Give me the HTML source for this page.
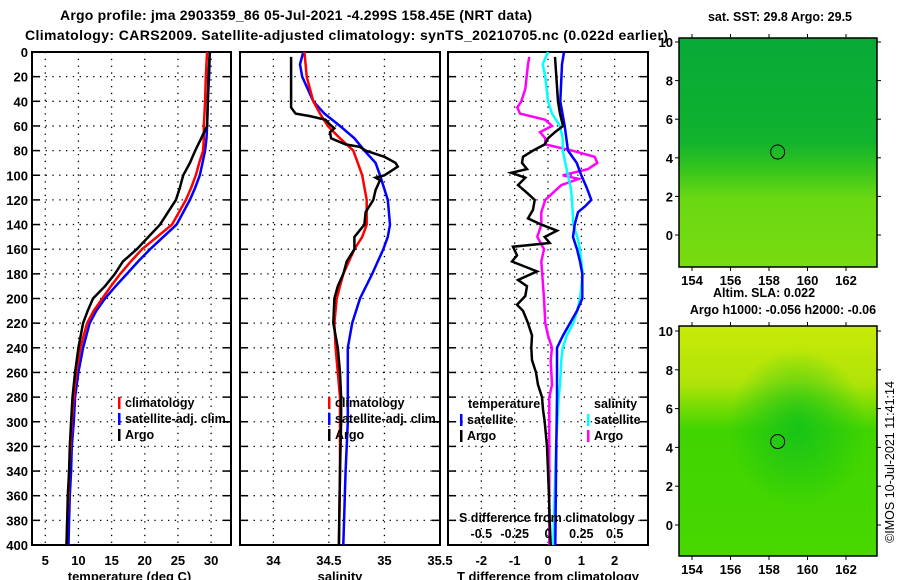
<!DOCTYPE html>
<html><head><meta charset="utf-8">
<style>
html,body{margin:0;padding:0;background:#fff;}
svg{display:block;font-family:"Liberation Sans",Arial,sans-serif;font-weight:bold;}
</style></head>
<body>
<svg id="chart" width="900" height="580" viewBox="0 0 900 580">
<defs>
<linearGradient id="g1" x1="0" y1="0" x2="0" y2="1">
<stop offset="0" stop-color="#08aa38"/><stop offset="0.45" stop-color="#10b22e"/>
<stop offset="0.58" stop-color="#38c61c"/><stop offset="0.7" stop-color="#6ad812"/>
<stop offset="1" stop-color="#78dc10"/></linearGradient>
<linearGradient id="g2" x1="0" y1="0" x2="0" y2="1">
<stop offset="0" stop-color="#c8ea08"/><stop offset="0.25" stop-color="#b0e408"/>
<stop offset="0.45" stop-color="#40d400"/><stop offset="1" stop-color="#48d800"/></linearGradient>
<radialGradient id="g2b" cx="0.6" cy="0.45" r="0.35">
<stop offset="0" stop-color="#18c418"/><stop offset="1" stop-color="#18c418" stop-opacity="0"/></radialGradient>
</defs>
<g id="root"></g>
</svg>
<script>
// ---- data (depth in m) ----
const tDepths   = [0,20,40,60,70,80,90,100,110,120,140,160,170,180,190,200,210,220,240,260,280,300,320,340,360,380,400];
const tArgo     = [29.8,29.6,29.5,29.4,28.5,27.6,26.8,25.8,25.3,24.7,22.3,18.8,16.7,15.5,14.0,12.2,11.4,10.7,10.0,9.5,9.1,8.9,8.7,8.6,8.4,8.3,8.2];
const tClim     = [29.4,29.2,29.1,28.9,28.9,28.8,28.2,27.7,27.0,26.2,24.1,19.6,17.9,16.3,14.9,13.6,12.3,11.3,10.3,9.7,9.3,9.0,8.8,8.6,8.5,8.3,8.2];
const tSat      = [29.8,29.7,29.5,29.4,29.3,29.1,28.7,28.3,27.6,26.8,24.8,20.8,19.0,17.3,15.6,14.0,12.7,11.7,10.7,10.0,9.5,9.3,9.0,8.9,8.7,8.6,8.5];

const sArgoDepths = [4,45,50,52,55,58,62,65,70,75,77,80,85,90,93,96,100,102,104,108,112,120,130,140,150,160,170,180,190,200,220,240,260,280,300,340,400];
const sArgo       = [34.16,34.16,34.2,34.33,34.47,34.5,34.55,34.51,34.52,34.65,34.78,34.83,35.0,35.1,35.12,35.07,35.0,34.92,34.96,34.94,34.92,34.9,34.83,34.82,34.73,34.73,34.66,34.63,34.58,34.55,34.54,34.58,34.6,34.61,34.61,34.6,34.59];
const sDepths   = [0,10,20,40,50,60,70,80,90,100,120,140,150,160,180,200,220,240,260,280,300,340,400];
const sClim     = [34.28,34.29,34.3,34.36,34.42,34.49,34.6,34.72,34.76,34.8,34.84,34.84,34.8,34.73,34.63,34.57,34.55,34.56,34.58,34.6,34.6,34.6,34.59];
const sSat      = [34.27,34.24,34.26,34.36,34.46,34.6,34.73,34.82,34.92,34.96,35.03,35.05,35.03,34.99,34.89,34.78,34.71,34.67,34.67,34.67,34.67,34.65,34.63];

const dtArgoDepths = [4,40,50,60,65,70,75,80,85,90,95,98,102,108,115,120,128,135,140,145,150,155,158,165,170,178,185,190,198,205,210,220,230,240,250,260,270,280,290,300,320,340,360,380,400];
const dtArgo       = [0.21,0.3,0.36,0.45,0.21,0,-0.1,-0.45,-0.75,-0.78,-0.63,-1.1,-0.68,-0.9,-0.6,-0.4,-0.45,-0.6,-0.2,0.27,-0.1,0.05,-1.05,-0.93,-1.08,-0.33,-0.9,-0.63,-0.68,-0.93,-0.75,-0.6,-0.48,-0.5,-0.48,-0.36,-0.3,-0.18,-0.15,-0.1,-0.03,0,0.03,0.05,0.08];
const dtSatDepths  = [0,10,40,60,80,90,100,110,120,125,130,140,150,160,170,180,200,210,220,230,240,260,280,320,400];
const dtSat        = [0.48,0.42,0.37,0.5,0.6,0.86,1.0,1.16,1.3,1.12,0.9,0.8,0.75,0.87,0.96,1.03,1.03,0.87,0.66,0.45,0.27,0.27,0.27,0.25,0.22];
const dsSatDepths  = [0,10,20,40,50,60,70,80,90,100,110,120,140,150,160,180,200,210,220,230,240,250,270,280,320,400];
const dsSat        = [0,-0.04,-0.02,0,0.03,0.09,0.11,0.11,0.13,0.15,0.17,0.18,0.19,0.22,0.24,0.26,0.24,0.22,0.19,0.14,0.11,0.1,0.09,0.08,0.06,0.04];
const dsArgoDepths = [4,10,30,40,45,50,55,60,65,70,75,80,85,90,95,100,103,108,115,120,130,140,150,160,170,200,220,230,240,250,270,280,320,400];
const dsArgo       = [-0.14,-0.15,-0.17,-0.2,-0.23,-0.21,-0.02,0.03,-0.06,-0.02,-0.02,0.18,0.35,0.37,0.3,0.11,0.23,0.1,0.03,-0.02,-0.05,-0.05,-0.08,-0.03,-0.05,-0.03,-0.02,0,0.03,0.02,0.03,0.01,0.01,0.01];

const depthTicks = [0,20,40,60,80,100,120,140,160,180,200,220,240,260,280,300,320,340,360,380,400];
const tTicks = [5,10,15,20,25,30];
const sTicks = [34,34.5,35,35.5];
const dtTicks = [-2,-1,0,1,2];
const dsTicks = [-0.5,-0.25,0,0.25,0.5];
const dsTickLabels = ["-0.5","-0.25","0","0.25","0.5"];
const latTicks = [0,2,4,6,8,10];
const lonTicks = [154,156,158,160,162];

// ---- helpers ----
const NS="http://www.w3.org/2000/svg";
const root=document.getElementById('root');
function mk(tag,attrs,parent){const e=document.createElementNS(NS,tag);for(const k in attrs)e.setAttribute(k,attrs[k]);(parent||root).appendChild(e);return e;}
function txt(x,y,s,size,anchor,parent){const e=mk('text',{x:x,y:y,'font-size':size,'text-anchor':anchor||'start',fill:'#000'},parent);e.textContent=s;return e;}

const Y0=52, Y1=545;
const yD = d => Y0 + d*(Y1-Y0)/400;
const panels = [
 {x0:32,x1:231,min:3,max:33,ticks:tTicks,labels:tTicks.map(String),label:'temperature (deg C)',name:'temperature-panel'},
 {x0:240,x1:440,min:33.7,max:35.5,ticks:sTicks,labels:sTicks.map(String),label:'salinity',name:'salinity-panel'},
 {x0:448,x1:648,min:-3,max:3,ticks:dtTicks,labels:dtTicks.map(String),label:'T difference from climatology',name:'difference-panel'}
];
panels.forEach(p=>{p.sx=v=>p.x0+(v-p.min)*(p.x1-p.x0)/(p.max-p.min);});
const dsX = v => panels[2].sx(v*4);

// titles
let t=txt(60,20,'Argo profile: jma 2903359_86 05-Jul-2021 -4.299S 158.45E (NRT data)',14,'start');
t.setAttribute('textLength','472');


t=txt(25,40,'Climatology: CARS2009. Satellite-adjusted climatology: synTS_20210705.nc (0.022d earlier)',14,'start');
t.setAttribute('textLength','643');



// depth tick labels
depthTicks.forEach(d=>{const e=txt(28,yD(d)+5,String(d),13,'end');

});

panels.forEach((p,i)=>{
 const g=mk('g',{});
 
 
 depthTicks.slice(1,-1).forEach(d=>{
  mk('line',{x1:p.x0,x2:p.x1,y1:yD(d),y2:yD(d),stroke:'#000','stroke-width':1.3,'stroke-dasharray':'1.3 5.5'},g);
  mk('line',{x1:p.x0,x2:p.x0+8,y1:yD(d),y2:yD(d),stroke:'#000','stroke-width':1.5},g);
  mk('line',{x1:p.x1-8,x2:p.x1,y1:yD(d),y2:yD(d),stroke:'#000','stroke-width':1.5},g);
 });
 p.ticks.forEach((v,k)=>{
  const x=p.sx(v);
  if(x>p.x0+2&&x<p.x1-2) mk('line',{x1:x,x2:x,y1:Y0,y2:Y1,stroke:'#000','stroke-width':1.3,'stroke-dasharray':'1.3 5.5'},g);
  const e=txt(x,565,p.labels[k],13,'middle',g);
  
  
 });
 mk('rect',{x:p.x0,y:Y0,width:p.x1-p.x0,height:Y1-Y0,fill:'none',stroke:'#000','stroke-width':2},g);
 const al=txt((p.x0+p.x1)/2+(i==0?-2:0),581,p.label,13,'middle',g);
 
 
});

function line(depths,vals,sx,color,name){
 const pts=depths.map((d,k)=>sx(vals[k]).toFixed(1)+','+yD(d).toFixed(1)).join(' ');
 const e=mk('polyline',{points:pts,fill:'none',stroke:color,'stroke-width':2.5,'stroke-linejoin':'miter'});
 
 
}
const P=panels;
line(tDepths,tSat,P[0].sx,'#0000ff','temp-satellite-line');
line(tDepths,tClim,P[0].sx,'#ff0000','temp-climatology-line');
line(tDepths,tArgo,P[0].sx,'#000','temp-argo-line');
line(sDepths,sSat,P[1].sx,'#0000ff','salinity-satellite-line');
line(sDepths,sClim,P[1].sx,'#ff0000','salinity-climatology-line');
line(sArgoDepths,sArgo,P[1].sx,'#000','salinity-argo-line');
line(dsArgoDepths,dsArgo,dsX,'#ff00ff','s-diff-argo-line');
line(dsSatDepths,dsSat,dsX,'#00ffff','s-diff-satellite-line');
line(dtSatDepths,dtSat,P[2].sx,'#0000ff','t-diff-satellite-line');
line(dtArgoDepths,dtArgo,P[2].sx,'#000','t-diff-argo-line');

// legends
function leg(x,y,color,label,name){
 const g=mk('g',{});
 
 
 mk('rect',{x:x,y:y-9,width:2.5,height:12,fill:color},g);
 txt(x+7,y+1,label,12.5,'start',g);
}
leg(118,406,'#ff0000','climatology','legend-climatology');
leg(118,422,'#0000ff','satellite-adj. clim.','legend-satellite');
leg(118,438,'#000','Argo','legend-argo');
leg(328,406,'#ff0000','climatology','legend-climatology-2');
leg(328,422,'#0000ff','satellite-adj. clim.','legend-satellite-2');
leg(328,438,'#000','Argo','legend-argo-2');
t=txt(468,408,'temperature',12.5);
t=txt(594,408,'salinity',12.5);
leg(460,423,'#0000ff','satellite','legend-t-satellite');
leg(460,439,'#000','Argo','legend-t-argo');
leg(587,423,'#00ffff','satellite','legend-s-satellite');
leg(587,439,'#ff00ff','Argo','legend-s-argo');
t=txt(459,522,'S difference from climatology',12.5);
dsTicks.forEach((v,k)=>{const e=txt(dsX(v),538,dsTickLabels[k],12.5,'middle');

});

// maps
function map(y0,y1,lat0,lat10,fill,extra,name){
 const g=mk('g',{});
 
 
 const x0=679,x1=877;
 mk('rect',{x:x0,y:y0,width:x1-x0,height:y1-y0,fill:fill},g);
 if(extra) mk('rect',{x:x0,y:y0,width:x1-x0,height:y1-y0,fill:extra},g);
 mk('rect',{x:x0,y:y0,width:x1-x0,height:y1-y0,fill:'none',stroke:'#000','stroke-width':1.5},g);
 const ly=v=>lat0+(lat10-lat0)*v/10;
 const lx=v=>692+(v-154)*19.25;
 latTicks.forEach(v=>{const y=ly(v);
  mk('line',{x1:x0-4,x2:x0,y1:y,y2:y,stroke:'#000'},g);
  mk('line',{x1:x1,x2:x1+4,y1:y,y2:y,stroke:'#000'},g);
  txt(x0-6,y+5,String(v),13,'end',g);});
 lonTicks.forEach(v=>{const x=lx(v);
  mk('line',{x1:x,x2:x,y1:y0-4,y2:y0,stroke:'#000'},g);
  mk('line',{x1:x,x2:x,y1:y1,y2:y1+4,stroke:'#000'},g);
  txt(x,y1+18,String(v),13,'middle',g);});
 const c=mk('circle',{cx:lx(158.45),cy:ly(4.3),r:7,fill:'none',stroke:'#000','stroke-width':1},g);
 
 
}
map(38,267,235,42,'url(#g1)',null,'sst-map');
map(326,556,525,331,'url(#g2)','url(#g2b)','sla-map');
t=txt(780,21,'sat. SST: 29.8 Argo: 29.5',12.5,'middle');
t=txt(764,297,'Altim. SLA: 0.022',12.5,'middle');
t=txt(783,314,'Argo h1000: -0.056 h2000: -0.06',12.5,'middle');
t=txt(0,0,'©IMOS 10-Jul-2021 11:41:14',12.5,'middle');
t.setAttribute('transform','translate(894,462) rotate(-90)');
t.setAttribute('font-weight','normal');


</script>
</body></html>
